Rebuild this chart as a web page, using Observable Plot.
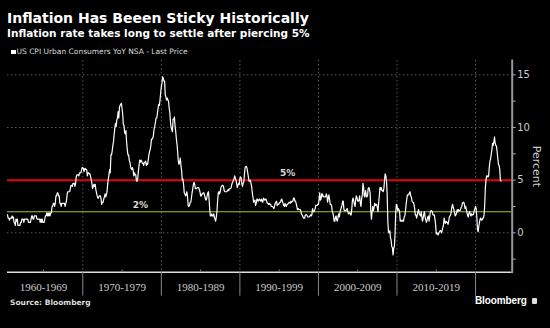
<!DOCTYPE html>
<html>
<head>
<meta charset="utf-8">
<script src="https://cdn.jsdelivr.net/npm/d3@7"></script>
<script src="https://cdn.jsdelivr.net/npm/@observablehq/plot@0.6"></script>
<style>
  html, body { margin: 0; padding: 0; background: #000; }
  body { width: 550px; height: 328px; position: relative; overflow: hidden; font-family: "DejaVu Sans", sans-serif; color: #fff; }
  .abs { position: absolute; white-space: nowrap; line-height: 1; }
  #title { left: 7px; top: 11px; font-size: 14px; font-weight: bold; color: #fff; }
  #subtitle { left: 7px; top: 27.7px; font-size: 10.5px; font-weight: bold; color: #fff; }
  #legend { left: 11px; top: 48px; font-size: 7.5px; color: #ddd; }
  #legend .sw { display: inline-block; width: 4.5px; height: 4.5px; background: #fff; margin-right: 1px; vertical-align: 0px; }
  #source { left: 10px; top: 298.5px; font-size: 7.5px; font-weight: bold; color: #ddd; }
  #brand { left: 475px; top: 295.5px; font-family: "Liberation Sans", sans-serif; font-size: 10px; font-weight: bold; color: #fff; letter-spacing: -0.1px; }
  #brand .ic { display: inline-block; width: 5px; height: 6px; background: #ddd; border-radius: 1px; margin-left: 5px; vertical-align: -0.5px; }
  #chart { position: absolute; left: 0; top: 56px; }
</style>
</head>
<body>
<div id="title" class="abs">Inflation Has Beeen Sticky Historically</div>
<div id="subtitle" class="abs">Inflation rate takes long to settle after piercing 5%</div>
<div id="legend" class="abs"><span class="sw"></span>US CPI Urban Consumers YoY NSA - Last Price</div>
<div id="chart"></div>
<div id="source" class="abs">Source: Bloomberg</div>
<div id="brand" class="abs">Bloomberg<span class="ic"></span></div>
<script>
// Monthly US CPI YoY (%), 1960s series starts June 1960, others start January of the decade
const cpi1960s = [
  1.7,1.4,1.4,1.2,1.4,1.4,1.4,
  1.6,1.4,1.5,1.0,0.9,0.7,1.3,1.1,1.3,0.7,0.7,0.7,
  0.7,1.0,1.0,1.3,1.3,1.3,1.0,1.3,1.3,1.3,1.3,1.3,
  1.3,1.0,1.0,1.0,1.0,1.3,1.6,1.6,1.3,1.3,1.6,1.6,
  1.6,1.6,1.3,1.3,1.3,1.3,1.3,1.0,1.3,1.0,1.3,1.0,
  1.0,1.0,1.3,1.6,1.6,1.9,1.6,1.9,1.6,1.9,1.6,1.9,
  1.9,2.5,2.5,2.8,2.8,2.5,2.8,3.5,3.5,3.8,3.8,3.5,
  3.5,2.8,2.8,2.5,2.8,2.8,2.8,2.8,2.8,2.5,2.8,3.0,
  3.6,3.9,3.9,3.9,3.9,4.2,4.5,4.5,4.4,4.7,4.7,4.7,
  4.4,4.7,5.3,5.5,5.5,5.5,5.4,5.7,5.7,5.7,5.9,6.2
];
const cpi1970s = [
  6.2,6.1,5.8,6.1,6.1,6.0,6.0,5.4,5.7,5.7,5.6,5.6,
  5.3,5.0,4.7,4.2,4.4,4.6,4.4,4.6,4.1,3.8,3.5,3.3,
  3.3,3.5,3.5,3.5,3.2,2.7,2.9,2.9,3.2,3.4,3.7,3.4,
  3.6,3.9,4.6,5.1,5.5,6.0,5.7,7.4,7.4,7.8,8.3,8.7,
  9.4,10.0,10.4,10.1,10.7,10.9,11.5,10.9,11.9,12.1,12.2,12.3,
  11.8,11.2,10.3,10.2,9.5,9.4,9.7,8.6,7.9,7.4,7.4,6.9,
  6.7,6.3,6.1,6.0,6.2,5.9,5.4,5.7,5.5,5.5,4.9,4.9,
  5.2,5.9,6.4,6.9,6.7,6.9,6.8,6.6,6.6,6.4,6.7,6.7,
  6.8,6.4,6.6,6.5,6.9,7.4,7.7,7.9,8.3,8.9,8.9,9.0,
  9.3,9.9,10.1,10.5,10.9,10.9,11.3,11.8,12.2,12.1,12.6,13.3
];
const cpi1980s = [
  13.9,14.2,14.8,14.7,14.4,14.4,13.1,12.9,12.6,12.8,12.6,12.5,
  11.8,11.4,10.5,10.0,9.8,9.6,10.8,10.8,11.0,10.1,9.6,8.9,
  8.4,7.6,6.8,6.5,6.7,7.1,6.4,5.9,5.0,5.1,4.6,3.8,
  3.7,3.5,3.6,3.9,3.5,2.6,2.5,2.6,2.9,2.9,3.3,3.8,
  4.2,4.6,4.8,4.6,4.2,4.2,4.2,4.3,4.3,4.3,4.1,3.9,
  3.5,3.5,3.7,3.7,3.8,3.8,3.6,3.3,3.1,3.2,3.5,3.8,
  3.9,3.1,2.2,1.6,1.6,1.8,1.6,1.6,1.8,1.5,1.3,1.1,
  1.5,2.1,3.0,3.8,3.9,3.7,3.9,4.3,4.4,4.5,4.5,4.4,
  4.0,3.9,3.9,3.9,3.9,4.0,4.1,4.0,4.2,4.2,4.2,4.4,
  4.7,4.8,5.0,5.1,5.4,5.2,5.0,4.7,4.3,4.5,4.7,4.6
];
const cpi1990s = [
  5.2,5.3,5.2,4.7,4.4,4.7,4.8,5.6,6.2,6.3,6.3,6.1,
  5.7,5.3,4.9,4.9,5.0,4.7,4.4,3.8,3.4,2.9,3.0,3.1,
  2.6,2.8,3.2,3.2,3.0,3.1,3.2,3.1,3.0,3.2,3.0,2.9,
  3.3,3.2,3.1,3.2,3.2,3.0,2.8,2.8,2.7,2.8,2.7,2.7,
  2.5,2.5,2.5,2.4,2.3,2.5,2.8,2.9,3.0,2.6,2.7,2.7,
  2.8,2.9,2.9,3.1,3.2,3.0,2.8,2.6,2.5,2.8,2.6,2.5,
  2.7,2.7,2.8,2.9,2.9,2.8,3.0,2.9,3.0,3.0,3.3,3.3,
  3.0,3.0,2.8,2.5,2.2,2.3,2.2,2.2,2.2,2.1,1.8,1.7,
  1.6,1.4,1.4,1.4,1.7,1.7,1.7,1.6,1.5,1.5,1.5,1.6,
  1.7,1.6,1.7,2.3,2.1,2.0,2.1,2.3,2.6,2.6,2.6,2.7
];
const cpi2000s = [
  2.7,3.2,3.8,3.1,3.2,3.7,3.7,3.4,3.5,3.4,3.4,3.4,
  3.7,3.5,2.9,3.3,3.6,3.2,2.7,2.7,2.6,2.1,1.9,1.6,
  1.1,1.1,1.5,1.6,1.2,1.1,1.5,1.8,1.5,2.0,2.2,2.4,
  2.6,3.0,3.0,2.2,2.1,2.1,2.1,2.2,2.3,2.0,1.8,1.9,
  1.9,1.7,1.7,2.3,3.1,3.3,3.0,2.7,2.5,3.2,3.5,3.3,
  3.0,3.0,3.1,3.5,2.8,2.5,3.2,3.6,4.7,4.3,3.5,3.4,
  4.0,3.6,3.4,3.5,4.2,4.3,4.1,3.8,2.1,1.3,2.0,2.5,
  2.1,2.4,2.8,2.6,2.7,2.7,2.4,2.0,2.8,3.5,4.3,4.1,
  4.3,4.0,4.0,3.9,4.2,5.0,5.6,5.4,4.9,3.7,1.1,0.1,
  0.0,0.2,-0.4,-0.7,-1.3,-1.4,-2.1,-1.5,-1.3,-0.2,1.8,2.7
];
const cpi2010s = [
  2.6,2.1,2.3,2.2,2.0,1.1,1.2,1.1,1.1,1.2,1.1,1.5,
  1.6,2.1,2.7,3.2,3.6,3.6,3.6,3.8,3.9,3.5,3.4,3.0,
  2.9,2.9,2.7,2.3,1.7,1.7,1.4,1.7,2.0,2.2,1.8,1.7,
  1.6,2.0,1.5,1.1,1.4,1.8,2.0,1.5,1.2,1.0,1.2,1.5,
  1.6,1.1,1.5,2.0,2.1,2.1,2.0,1.7,1.7,1.7,1.3,0.8,
  -0.1,0.0,-0.1,-0.2,0.0,0.1,0.2,0.2,0.0,0.2,0.5,0.7,
  1.4,1.0,0.9,1.1,1.0,1.0,0.8,1.1,1.5,1.6,1.7,2.1,
  2.5,2.7,2.4,2.2,1.9,1.6,1.7,1.9,2.2,2.0,2.2,2.1,
  2.1,2.2,2.4,2.5,2.8,2.9,2.9,2.7,2.3,2.5,2.2,1.9,
  1.6,1.5,1.9,2.0,1.8,1.6,1.8,1.7,1.7,1.8,2.1,2.3
];
const cpi2020s = [
  2.5,2.3,1.5,0.3,0.1,0.6,1.0,1.3,1.4,1.2,1.2,1.4,
  1.4,1.7,2.6,4.2,5.0,5.4,5.4,5.3,5.4,6.2,6.8,7.0,
  7.5,7.9,8.5,8.3,8.6,9.1,8.5,8.3,8.2,7.7,7.1,6.5,
  6.4,6.0,5.0,4.9
];
const seriesStarts = [[1960, 5], [1970, 0], [1980, 0], [1990, 0], [2000, 0], [2010, 0], [2020, 0]];
const seriesValues = [cpi1960s, cpi1970s, cpi1980s, cpi1990s, cpi2000s, cpi2010s, cpi2020s];

const decadeLabels = ["1960-1969", "1970-1979", "1980-1989", "1990-1999", "2000-2009", "2010-2019"];
const decadeStartYears = [1960, 1970, 1980, 1990, 2000, 2010];
const separatorYears = [1970, 1980, 1990, 2000, 2010, 2020];
const yTicks = [-2.5, 0, 2.5, 5, 7.5, 10, 12.5, 15];
const yGrid = [0, 10, 15];
const refLines = [5, 2];
const refLabels = ["5%", "2%"];
const refLabelDates = [[1996, 1], [1977, 4]];
const xDomain = [new Date(1960, 5, 1), new Date(2024, 8, 1)];
const yDomain = [-3.74, 16.36];

// build table
const cpi = [];
seriesValues.forEach((vals, k) => {
  const [y0, m0] = seriesStarts[k];
  vals.forEach((v, i) => cpi.push({ date: new Date(y0, m0 + i, 1), value: v }));
});
const decades = decadeLabels.map((label, i) => ({ label, mid: new Date(decadeStartYears[i] + 5, 0, 1) }));
const midTicks = decadeStartYears.map(y => new Date(y + 5, 0, 1));
const seps = separatorYears.map(y => new Date(y, 0, 1));
const refs = refLines.map((v, i) => ({ value: v, label: refLabels[i], date: new Date(refLabelDates[i][0], refLabelDates[i][1], 1) }));

const chart = Plot.plot({
  width: 550,
  height: 245,
  marginTop: 4,
  marginBottom: 29.3,
  marginLeft: 7,
  marginRight: 38.3,
  style: { background: "#000", color: "#ccc", fontFamily: "DejaVu Sans, sans-serif", overflow: "visible" },
  x: { type: "time", domain: xDomain, axis: null },
  y: { domain: yDomain, axis: null },
  marks: [
    Plot.gridY(yGrid, { stroke: "#5a5a5a", strokeOpacity: 1, strokeDasharray: "1.5,2.5" }),
    Plot.gridX(seps, { stroke: "#5a5a5a", strokeOpacity: 1, strokeDasharray: "1.5,2.5" }),
    Plot.ruleY([refLines[1]], { stroke: "#8fcf3c", strokeWidth: 1.2 }),
    Plot.ruleY([refLines[0]], { stroke: "#e8000d", strokeWidth: 2 }),
    Plot.line(cpi, { x: "date", y: "value", stroke: "#fff", strokeWidth: 1.2, clip: true }),
    Plot.text(refs, { x: "date", y: "value", text: "label", dy: -7, fill: "#ddd", fontSize: 9, fontWeight: "bold" }),
    Plot.ruleY([yDomain[0]], { stroke: "#ddd", strokeWidth: 1.5 }),
    Plot.axisX({ ticks: seps, tickSize: 24, tickFormat: () => "", stroke: "#888" }),
    Plot.ruleX(midTicks, { y1: yDomain[0], y2: yDomain[0] + 0.2, stroke: "#888" }),
    Plot.text(decades, { x: "mid", frameAnchor: "bottom", dy: 18.3, text: "label", fill: "#ccc", fontSize: 11, fontFamily: "Liberation Serif, serif" }),
    Plot.frame({ anchor: "right", stroke: "#999", strokeWidth: 2 }),
    Plot.axisY({ anchor: "right", ticks: yTicks, tickSize: 3, tickPadding: 2, tickFormat: d => (d % 5 === 0 ? d : ""), stroke: "#aaa", fill: "#ccc", fontSize: 10, label: null }),
    Plot.text(["Percent"], { frameAnchor: "right", textAnchor: "middle", dx: 24.5, dy: 0, rotate: 90, fill: "#ccc", fontSize: 11 })
  ]
});
document.getElementById("chart").appendChild(chart);
</script>
</body>
</html>
